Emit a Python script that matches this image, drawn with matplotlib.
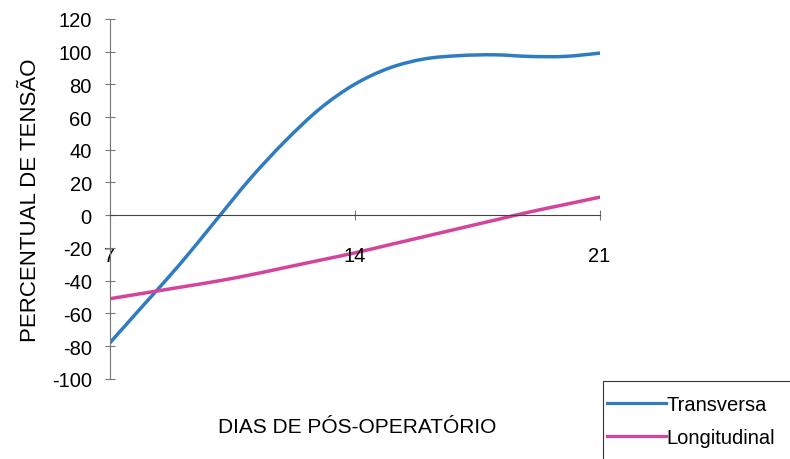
import matplotlib.pyplot as plt
import numpy as np
from matplotlib.lines import Line2D
from matplotlib.patches import PathPatch, Rectangle
from matplotlib.path import Path

plt.rcParams["font.family"] = ["Liberation Sans", "DejaVu Sans"]
plt.rcParams["axes.unicode_minus"] = False

days = [7, 8, 9, 10, 11, 12, 13, 14, 15, 16, 17, 18, 19, 20, 21]
transversa = [-78, -54, -30, -4, 22, 45, 65, 80, 90, 95.5, 97.5, 98, 97, 97, 99]
longitudinal = [-51, -47.5, -44, -40.5, -36.5, -32, -27.5, -23, -18, -13, -8, -3, 2, 6.5, 11]
x_ticks = [7, 14, 21]
y_ticks = list(range(-100, 121, 20))

blue = "#2f7cc3"
magenta = "#d4449c"


def smooth_path(x, y):
    # Catmull-Rom through the points, drawn as cubic bezier (like Excel's smoothed line)
    pts = np.column_stack([x, y]).astype(float)
    n = len(pts)
    verts = [pts[0]]
    codes = [Path.MOVETO]
    for i in range(n - 1):
        p0 = pts[max(i - 1, 0)]
        p1 = pts[i]
        p2 = pts[i + 1]
        p3 = pts[min(i + 2, n - 1)]
        verts += [p1 + (p2 - p0) / 6, p2 - (p3 - p1) / 6, p2]
        codes += [Path.CURVE4] * 3
    return Path(verts, codes)


fig = plt.figure(figsize=(7.9, 4.6), dpi=100)
ax = fig.add_axes([0.139, 0.174, 0.620, 0.783])

for values, color in ((transversa, blue), (longitudinal, magenta)):
    ax.add_patch(PathPatch(smooth_path(days, values), facecolor="none", edgecolor=color,
                           lw=2.5, capstyle="round", joinstyle="round"))

ax.set_xlim(7, 21)
ax.set_ylim(-100, 120)
ax.set_yticks(y_ticks)
ax.set_yticklabels([str(v) for v in y_ticks])
ax.set_xticks(x_ticks)
ax.set_xticklabels([str(t) for t in x_ticks])

for side in ("top", "right"):
    ax.spines[side].set_visible(False)
ax.spines["bottom"].set_position(("data", 0))
ax.spines["bottom"].set_color("#444444")
ax.spines["left"].set_color("#777777")
ax.spines["left"].set_linewidth(0.8)
ax.spines["bottom"].set_linewidth(0.8)

ax.tick_params(axis="y", direction="inout", length=7, width=0.8, color="#777777",
               labelsize=14.5, pad=9.5)
ax.tick_params(axis="x", direction="inout", length=7, width=0.8, color="#777777",
               labelsize=14.5, pad=19)

ax.set_ylabel("PERCENTUAL DE TENSÃO", fontsize=16)
ax.yaxis.set_label_coords(-0.14, 0.5)
fig.text(0.452, 0.070, "DIAS DE PÓS-OPERATÓRIO", fontsize=15, ha="center", va="center")

# legend box runs off the right and bottom edges in the original
fig.patches.append(Rectangle((603 / 790, -0.05), 0.3, 0.05 + 78 / 460,
                             transform=fig.transFigure, facecolor="white",
                             edgecolor="#333333", lw=0.8, zorder=5))
handles = [Line2D([], [], color=blue, lw=2.3), Line2D([], [], color=magenta, lw=2.3)]
leg = fig.legend(handles, ["Transversa", "Longitudinal"], loc="upper left",
                 bbox_to_anchor=(607 / 790, 1 - 396 / 460), fontsize=14.5,
                 handlelength=2.95, handletextpad=0.0, labelspacing=0.72,
                 borderaxespad=0, borderpad=0, frameon=False)
leg.set_zorder(6)

fig.savefig("out.png", dpi=100)
